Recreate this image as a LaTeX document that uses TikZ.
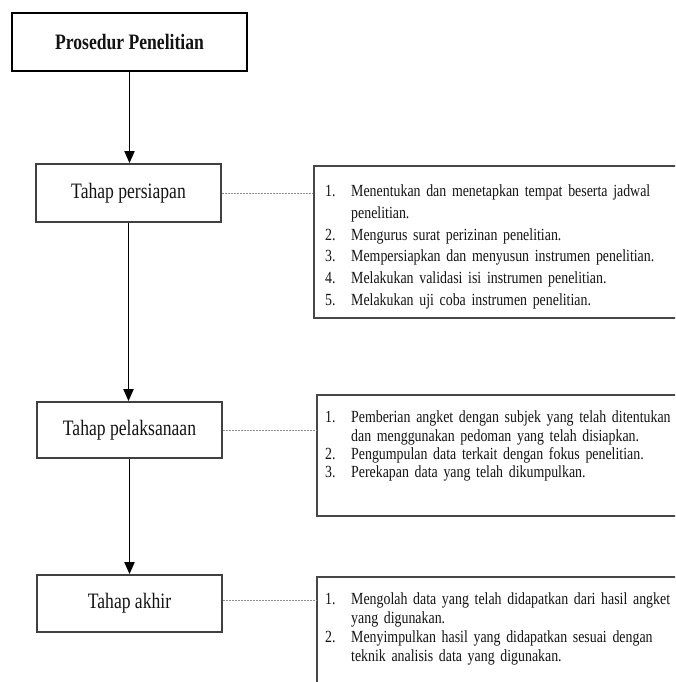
\documentclass[tikz,border=0pt]{standalone}
\usepackage{fontspec}
\setmainfont{Liberation Serif}[FakeStretch=0.8]
\newfontfamily\listfont{Liberation Serif}[FakeStretch=0.817]
\usetikzlibrary{arrows.meta}
\newcommand{\itm}[2]{\par\noindent\hangindent=26pt\hangafter=1\makebox[26pt][l]{\strut#1}#2}
\begin{document}
\begin{tikzpicture}[x=1pt,y=-1pt,
  titlebox/.style={draw=black, line width=1.8pt, minimum width=235pt, minimum height=58pt, inner sep=0pt,
    font=\bfseries\fontsize{22}{26}\selectfont, text=black!92},
  stagebox/.style={draw=black!75, line width=1.7pt, minimum width=185pt, inner sep=0pt,
    font=\fontsize{22}{26}\selectfont, text=black!92},
  listframe/.style={draw=black!72, line width=1.7pt, anchor=north west, inner sep=0pt},
  listtext/.style={anchor=north west, inner sep=0pt, text=black!92},
  arr/.style={draw=black, line width=1.8pt, -{Triangle[width=10pt,length=12pt]}},
  link/.style={draw=black!45, line width=0.8pt, dash pattern=on 2pt off 1pt}]
\clip (0,0) rectangle (675,682);
\fill[white] (0,0) rectangle (675,682);

% left column
\node[titlebox] (P) at (129.5,42) {Prosedur Penelitian};
\node[stagebox, minimum height=58pt] (A) at (128.5,193) {Tahap persiapan};
\node[stagebox, minimum height=56pt] (B) at (129.5,430) {Tahap pelaksanaan};
\node[stagebox, minimum height=57pt] (C) at (129.5,603.5) {Tahap akhir};

% right frames
\node[listframe, minimum width=364pt, minimum height=152pt] (R1) at (313,165) {};
\node[listframe, minimum width=361pt, minimum height=121pt] (R2) at (316,394) {};
\node[listframe, minimum width=361pt, minimum height=130pt] (R3) at (316,576) {};

% list texts
\node[listtext, text width=342pt, font=\listfont\fontsize{17}{21.8}\selectfont] (T1) at (325,174.5) {%
  \tolerance=9999\hyphenpenalty=10000
  \itm{1.}{Menentukan dan menetapkan tempat beserta jadwal\linebreak penelitian.}
  \itm{2.}{Mengurus surat perizinan penelitian.}
  \itm{3.}{Mempersiapkan dan menyusun instrumen penelitian.}
  \itm{4.}{Melakukan validasi isi instrumen penelitian.}
  \itm{5.}{Melakukan uji coba instrumen penelitian.}\par};
\node[listtext, text width=355pt, font=\listfont\fontsize{17}{18.4}\selectfont] (T2) at (325,404) {%
  \raggedright\hyphenpenalty=10000
  \itm{1.}{Pemberian angket dengan subjek yang telah ditentukan\linebreak dan menggunakan pedoman yang telah disiapkan.}
  \itm{2.}{Pengumpulan data terkait dengan fokus penelitian.}
  \itm{3.}{Perekapan data yang telah dikumpulkan.}\par};
\node[listtext, text width=355pt, font=\listfont\fontsize{17}{19}\selectfont] (T3) at (325,585.5) {%
  \raggedright\hyphenpenalty=10000
  \itm{1.}{Mengolah data yang telah didapatkan dari hasil angket\linebreak yang digunakan.}
  \itm{2.}{Menyimpulkan hasil yang didapatkan sesuai dengan\linebreak teknik analisis data yang digunakan.}\par};

% connectors
\draw[arr] (P.south) -- (P.south |- A.north);
\draw[arr] (A.south) -- (A.south |- B.north);
\draw[arr] (B.south) -- (C.north);
\draw[link] (A.east) -- (A.east -| R1.west);
\draw[link] (B.east) -- (B.east -| R2.west);
\draw[link] ([yshift=3pt]C.east) -- ([yshift=3pt]C.east -| R3.west);
\end{tikzpicture}
\end{document}
